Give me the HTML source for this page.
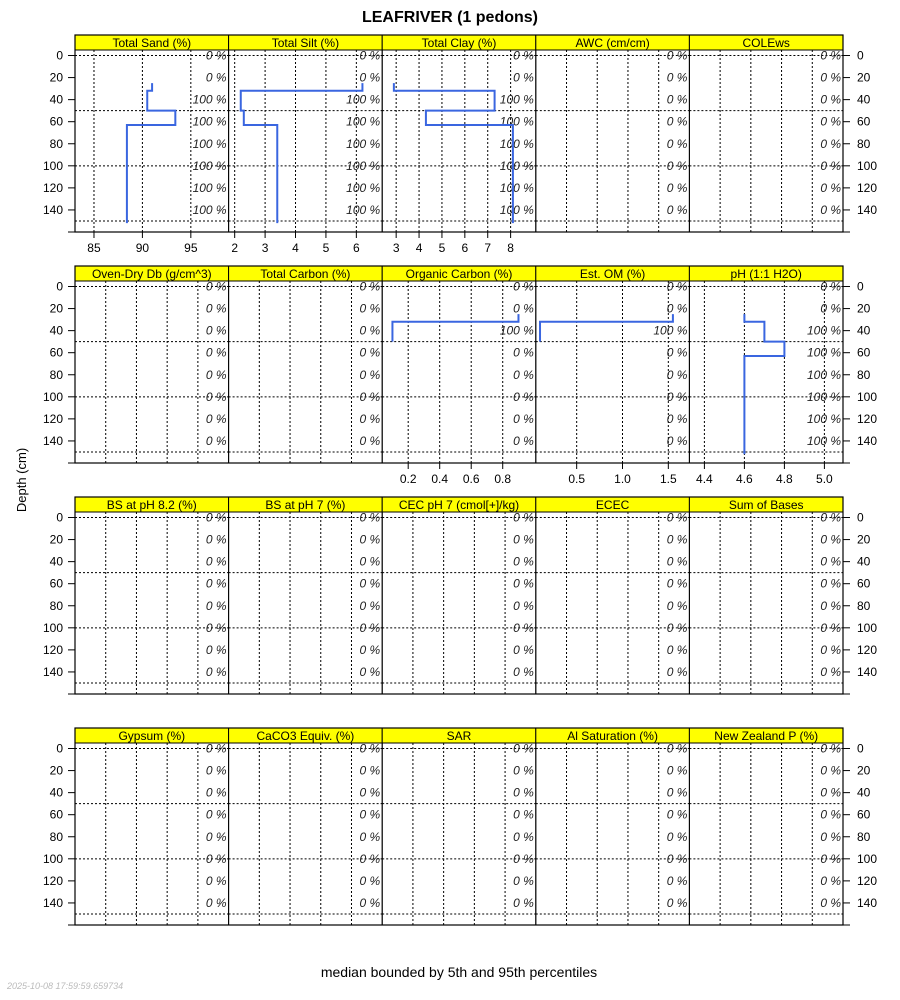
<!DOCTYPE html>
<html><head><meta charset="utf-8"><style>
html,body{margin:0;padding:0;background:#fff}
svg{display:block;font-family:"Liberation Sans",sans-serif}
</style></head><body>
<svg id="chart" width="900" height="1000" xmlns="http://www.w3.org/2000/svg">
<text x="450" y="22" text-anchor="middle" font-size="16" font-weight="bold">LEAFRIVER (1 pedons)</text>
<text transform="translate(26,480) rotate(-90)" text-anchor="middle" font-size="13">Depth (cm)</text>
<text x="459" y="977" text-anchor="middle" font-size="14">median bounded by 5th and 95th percentiles</text>
<text x="7" y="989" font-size="9" font-style="italic" fill="#bbb">2025-10-08 17:59:59.659734</text>
<g id="panels"></g>
</svg>
<script>
// ---- data ----
const panelTitles = ["Total Sand (%)","Total Silt (%)","Total Clay (%)","AWC (cm/cm)","COLEws",
 "Oven-Dry Db (g/cm^3)","Total Carbon (%)","Organic Carbon (%)","Est. OM (%)","pH (1:1 H2O)",
 "BS at pH 8.2 (%)","BS at pH 7 (%)","CEC pH 7 (cmol[+]/kg)","ECEC","Sum of Bases",
 "Gypsum (%)","CaCO3 Equiv. (%)","SAR","Al Saturation (%)","New Zealand P (%)"];
const depthTicks = [0,20,40,60,80,100,120,140];
const depthGrid = [0,50,100,150];
const horizonTops = [25,32,50,63];
const horizonBottoms = [32,50,63,152];
const sandValues = [91.0,90.5,93.4,88.4];
const siltValues = [6.2,2.2,2.3,3.4];
const clayValues = [2.9,7.3,4.3,8.1];
const ocTops = [25,32];
const ocBottoms = [32,50];
const ocValues = [0.9,0.1];
const omValues = [1.55,0.1];
const phValues = [4.6,4.7,4.8,4.6];
const pctTextures = ["0 %","0 %","100 %","100 %","100 %","100 %","100 %","100 %"];
const pctOC = ["0 %","0 %","100 %","0 %","0 %","0 %","0 %","0 %"];
const pctZero = ["0 %","0 %","0 %","0 %","0 %","0 %","0 %","0 %"];
const sandTicks = [85,90,95];
const siltTicks = [2,3,4,5,6];
const clayTicks = [3,4,5,6,7,8];
const ocTicks = [0.2,0.4,0.6,0.8];
const omTicks = [0.5,1.0,1.5];
const phTicks = [4.4,4.6,4.8,5.0];
// domains [min,max] per panel with data
const sandDomain = [83.04,98.9];
const siltDomain = [1.8,6.85];
const clayDomain = [2.39,9.1];
const ocDomain = [0.035,1.01];
const omDomain = [0.054,1.73];
const phDomain = [4.325,5.093];

const NS="http://www.w3.org/2000/svg";
const root=document.getElementById('panels');
function mk(tag,attrs,parent,text){const e=document.createElementNS(NS,tag);for(const k in attrs)e.setAttribute(k,attrs[k]);if(text!==undefined)e.textContent=text;(parent||root).appendChild(e);return e;}
const rowTops=[35,266,497,728];
const X0=75,X1=843,PW=(X1-X0)/5;
const D0=-5,D1=160,PH=182;

const series = {
 0:{dom:sandDomain,ticks:sandTicks,tops:horizonTops,bots:horizonBottoms,vals:sandValues,pct:pctTextures,fmt:v=>String(v)},
 1:{dom:siltDomain,ticks:siltTicks,tops:horizonTops,bots:horizonBottoms,vals:siltValues,pct:pctTextures,fmt:v=>String(v)},
 2:{dom:clayDomain,ticks:clayTicks,tops:horizonTops,bots:horizonBottoms,vals:clayValues,pct:pctTextures,fmt:v=>String(v)},
 7:{dom:ocDomain,ticks:ocTicks,tops:ocTops,bots:ocBottoms,vals:ocValues,pct:pctOC,fmt:v=>v.toFixed(1)},
 8:{dom:omDomain,ticks:omTicks,tops:ocTops,bots:ocBottoms,vals:omValues,pct:pctOC,fmt:v=>v.toFixed(1)},
 9:{dom:phDomain,ticks:phTicks,tops:horizonTops,bots:horizonBottoms,vals:phValues,pct:pctTextures,fmt:v=>v.toFixed(1)}
};
const showXAxis={0:true,1:true,2:true,7:true,8:true,9:true};

panelTitles.forEach((title,i)=>{
  const r=Math.floor(i/5), c=i%5;
  const T=rowTops[r], top=T+15, bot=top+PH;
  const left=X0+c*PW, right=left+PW;
  const yS=d=>top+(d-D0)/(D1-D0)*PH;
  const g=mk('g',{});
  
  
  const s=series[i];
  const xS=s?(v=>left+(v-s.dom[0])/(s.dom[1]-s.dom[0])*PW):null;
  // grid
  const vx = s ? s.ticks.map(xS) : [1,2,3,4].map(k=>left+k*PW/5);
  vx.forEach(x=>{const l=mk('line',{x1:x,x2:x,y1:top,y2:bot,stroke:'#000','stroke-width':1,'stroke-dasharray':'2,2'},g);});
  depthGrid.forEach(d=>{const l=mk('line',{x1:left,x2:right,y1:yS(d),y2:yS(d),stroke:'#000','stroke-width':1,'stroke-dasharray':'2,2'},g);});
  // pct labels
  const pct=s?s.pct:pctZero;
  depthTicks.forEach((d,k)=>{const t=mk('text',{x:right-2,y:yS(d)+4,'text-anchor':'end','font-size':12,'font-style':'italic',fill:'#222'},g,pct[k]);});
  // series line
  if(s){
    let p='';
    s.vals.forEach((v,k)=>{const x=xS(v);p+=(k===0?'M':'L')+x+','+yS(s.tops[k])+'L'+x+','+yS(s.bots[k]);});
    const pl=mk('path',{d:p,fill:'none',stroke:'#3a66e0','stroke-width':2},g);
    
    
  }
  // strip
  const st=mk('rect',{x:left,y:T,width:PW,height:15,fill:'#ffff00',stroke:'#000','stroke-width':1},g);
  
  
  const stt=mk('text',{x:left+PW/2,y:T+12,'text-anchor':'middle','font-size':12},g,title);
  
  
  const fr=mk('rect',{x:left,y:top,width:PW,height:PH,fill:'none',stroke:'#000','stroke-width':1},g);
  
  
  // x axis
  if(s&&showXAxis[i]){
    s.ticks.forEach(v=>{const x=xS(v);mk('line',{x1:x,x2:x,y1:bot,y2:bot+6,stroke:'#000'},g);
      const t=mk('text',{x:x,y:bot+20,'text-anchor':'middle','font-size':12},g,s.fmt(v));
      
      });
  }
});
// outer frames & depth axes
rowTops.forEach((T,r)=>{
  const top=T+15,bot=top+PH;
  const yS=d=>top+(d-D0)/(D1-D0)*PH;
  mk('rect',{x:X0,y:T,width:X1-X0,height:PH+15,fill:'none',stroke:'#000','stroke-width':1.2});
  depthTicks.concat([160]).forEach(d=>{
    const y=yS(d);
    mk('line',{x1:X0-7,x2:X0,y1:y,y2:y,stroke:'#000'});
    mk('line',{x1:X1,x2:X1+7,y1:y,y2:y,stroke:'#000'});
    if(d!==160){
      const a=mk('text',{x:X0-12,y:y+4,'text-anchor':'end','font-size':12},root,String(d));
      
      
      const b=mk('text',{x:X1+14,y:y+4,'font-size':12},root,String(d));
      
      
    }
  });
});
</script>
</body></html>
